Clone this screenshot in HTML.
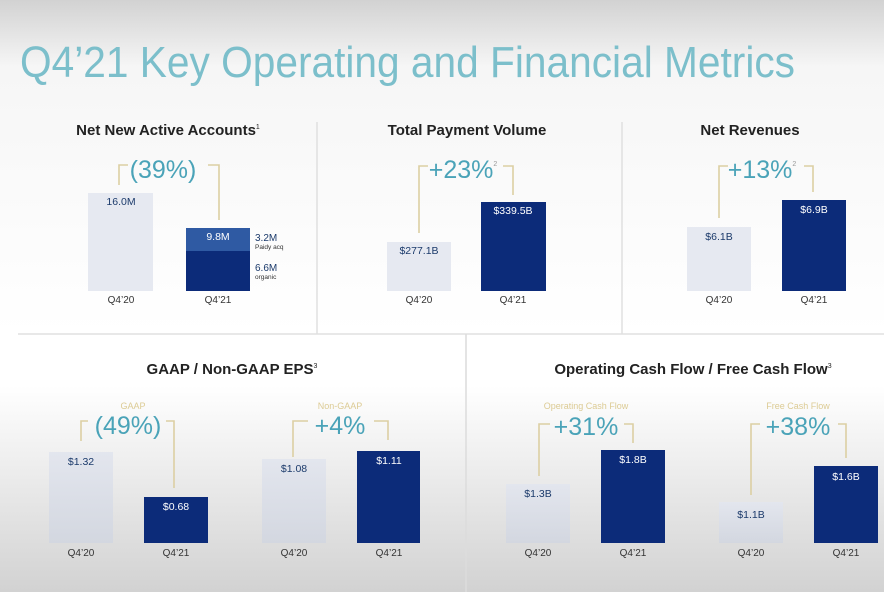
<!DOCTYPE html>
<html><head><meta charset="utf-8"><style>
html,body{margin:0;padding:0;width:884px;height:592px;overflow:hidden}
svg{display:block}
text{font-family:"Liberation Sans",sans-serif}
.t{font-weight:bold;font-size:15px;fill:#222;text-anchor:middle}
.q{font-size:10px;fill:#333;text-anchor:middle}
.vd{font-size:10.5px;fill:#1b3a6b;text-anchor:middle}
.vl{font-size:10.5px;fill:#fff;text-anchor:middle}
.p{font-size:25px;fill:#4aa3b8;text-anchor:middle}
.g{font-size:9px;fill:#dccb94;text-anchor:middle}
.br{fill:none;stroke:#dccfa3;stroke-width:1.6}
</style></head><body>
<svg width="884" height="592" viewBox="0 0 884 592">
<defs>
<linearGradient id="top" x1="0" y1="0" x2="0" y2="1"><stop offset="0" stop-color="#d2d2d2"/><stop offset="0.2" stop-color="#f6f6f6"/><stop offset="1" stop-color="#ffffff"/></linearGradient>
<linearGradient id="bot" x1="0" y1="0" x2="0" y2="1"><stop offset="0" stop-color="#ffffff"/><stop offset="0.2" stop-color="#ffffff"/><stop offset="1" stop-color="#d2d2d2"/></linearGradient>
<linearGradient id="lb" x1="0" y1="0" x2="0" y2="1"><stop offset="0" stop-color="#e3e6ee"/><stop offset="1" stop-color="#d3d7e0"/></linearGradient>
</defs>
<rect x="0" y="0" width="884" height="334" fill="url(#top)"/>
<rect x="0" y="334" width="884" height="258" fill="url(#bot)"/>
<text x="20" y="77" font-size="44" fill="#7cbfcb" textLength="775" lengthAdjust="spacingAndGlyphs" style="font-weight:300">Q4’21 Key Operating and Financial Metrics</text>
<line x1="317" y1="122" x2="317" y2="334" stroke="#e0e0e0" stroke-width="1.5"/>
<line x1="622" y1="122" x2="622" y2="334" stroke="#e0e0e0" stroke-width="1.5"/>
<line x1="18" y1="334" x2="884" y2="334" stroke="#e0e0e0" stroke-width="1.5"/>
<line x1="466" y1="334" x2="466" y2="592" stroke="#dcdcdc" stroke-width="1.5"/>

<text class="t" x="168" y="135">Net New Active Accounts<tspan font-size="7" dy="-6" font-weight="normal">1</tspan></text>
<path class="br" d="M119,185 V165 H128 M208,165 H219 V220"/>
<text class="p" x="163" y="178">(39%)</text>
<rect x="88" y="193" width="65" height="98" fill="#e6e9f1"/>
<text class="vd" x="121" y="205">16.0M</text>
<rect x="186" y="228" width="64" height="23" fill="#2f5aa3"/>
<rect x="186" y="251" width="64" height="40" fill="#0c2b79"/>
<text class="vl" x="218" y="240">9.8M</text>
<text x="255" y="241" font-size="10" fill="#1b3a6b">3.2M</text>
<text x="255" y="249" font-size="6.5" fill="#333">Paidy acq</text>
<text x="255" y="271" font-size="10" fill="#1b3a6b">6.6M</text>
<text x="255" y="279" font-size="6.5" fill="#333">organic</text>
<text class="q" x="121" y="303">Q4’20</text>
<text class="q" x="218" y="303">Q4’21</text>

<text class="t" x="467" y="135">Total Payment Volume</text>
<path class="br" d="M419,233 V166 H428 M503,166 H513 V195"/>
<text class="p" x="463" y="178">+23%<tspan font-size="7" dy="-12" fill="#999">2</tspan></text>
<rect x="387" y="242" width="64" height="49" fill="#e6e9f1"/>
<text class="vd" x="419" y="254">$277.1B</text>
<rect x="481" y="202" width="65" height="89" fill="#0c2b79"/>
<text class="vl" x="513" y="214">$339.5B</text>
<text class="q" x="419" y="303">Q4’20</text>
<text class="q" x="513" y="303">Q4’21</text>

<text class="t" x="750" y="135">Net Revenues</text>
<path class="br" d="M719,218 V166 H728 M804,166 H813 V192"/>
<text class="p" x="762" y="178">+13%<tspan font-size="7" dy="-12" fill="#999">2</tspan></text>
<rect x="687" y="227" width="64" height="64" fill="#e6e9f1"/>
<text class="vd" x="719" y="240">$6.1B</text>
<rect x="782" y="200" width="64" height="91" fill="#0c2b79"/>
<text class="vl" x="814" y="213">$6.9B</text>
<text class="q" x="719" y="303">Q4’20</text>
<text class="q" x="814" y="303">Q4’21</text>

<text class="t" x="232" y="374">GAAP / Non-GAAP EPS<tspan font-size="7" dy="-6" font-weight="normal">3</tspan></text>
<text class="g" x="133" y="409">GAAP</text>
<path class="br" d="M81,441 V421 H88 M166,421 H174 V488"/>
<text class="p" x="128" y="434">(49%)</text>
<rect x="49" y="452" width="64" height="91" fill="url(#lb)"/>
<text class="vd" x="81" y="465">$1.32</text>
<rect x="144" y="497" width="64" height="46" fill="#0c2b79"/>
<text class="vl" x="176" y="510">$0.68</text>
<text class="q" x="81" y="556">Q4’20</text>
<text class="q" x="176" y="556">Q4’21</text>

<text class="g" x="340" y="409">Non-GAAP</text>
<path class="br" d="M293,457 V421 H308 M374,421 H388 V440"/>
<text class="p" x="340" y="434">+4%</text>
<rect x="262" y="459" width="64" height="84" fill="url(#lb)"/>
<text class="vd" x="294" y="472">$1.08</text>
<rect x="357" y="451" width="63" height="92" fill="#0c2b79"/>
<text class="vl" x="389" y="464">$1.11</text>
<text class="q" x="294" y="556">Q4’20</text>
<text class="q" x="389" y="556">Q4’21</text>

<text class="t" x="693" y="374">Operating Cash Flow / Free Cash Flow<tspan font-size="7" dy="-6" font-weight="normal">3</tspan></text>
<text class="g" x="586" y="409">Operating Cash Flow</text>
<path class="br" d="M539,476 V424 H550 M624,424 H633 V443"/>
<text class="p" x="586" y="435">+31%</text>
<rect x="506" y="484" width="64" height="59" fill="url(#lb)"/>
<text class="vd" x="538" y="497">$1.3B</text>
<rect x="601" y="450" width="64" height="93" fill="#0c2b79"/>
<text class="vl" x="633" y="463">$1.8B</text>
<text class="q" x="538" y="556">Q4’20</text>
<text class="q" x="633" y="556">Q4’21</text>

<text class="g" x="798" y="409">Free Cash Flow</text>
<path class="br" d="M751,495 V424 H760 M838,424 H846 V458"/>
<text class="p" x="798" y="435">+38%</text>
<rect x="719" y="502" width="64" height="41" fill="url(#lb)"/>
<text class="vd" x="751" y="518">$1.1B</text>
<rect x="814" y="466" width="64" height="77" fill="#0c2b79"/>
<text class="vl" x="846" y="480">$1.6B</text>
<text class="q" x="751" y="556">Q4’20</text>
<text class="q" x="846" y="556">Q4’21</text>
</svg>
</body></html>
